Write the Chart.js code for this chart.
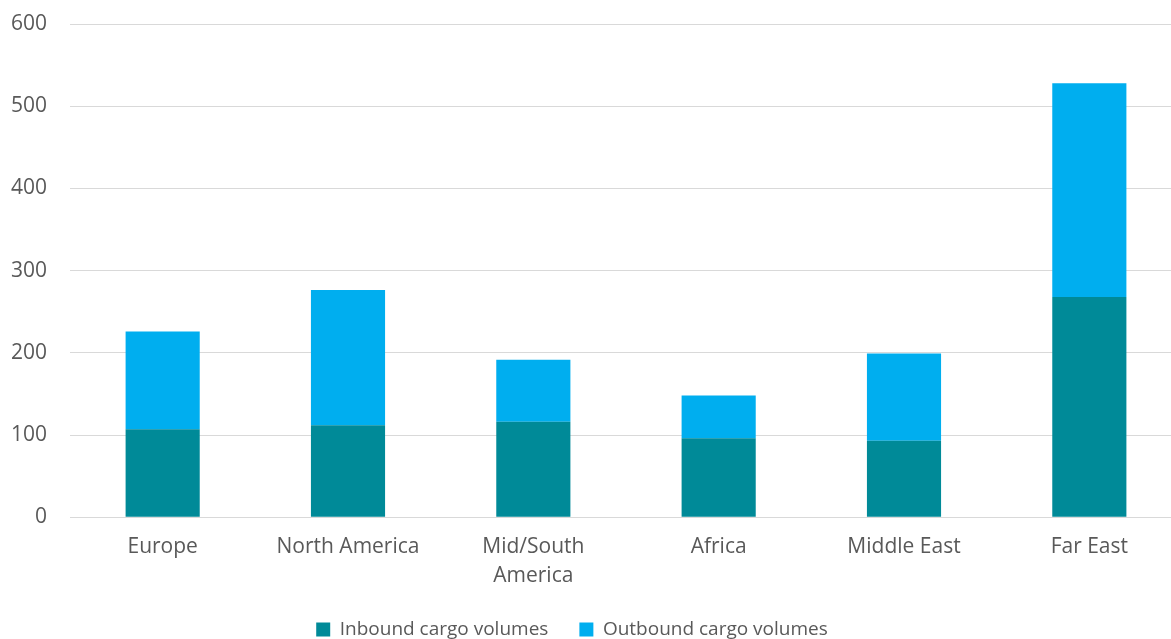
<!DOCTYPE html>
<html>
<head>
<meta charset="utf-8">
<script src="https://cdn.jsdelivr.net/npm/chart.js@4"></script>
<style>
  html, body { margin: 0; padding: 0; overflow: hidden; background: #fff; width: 1171px; height: 639px; }
  #wrap { position: absolute; left: -38px; top: 0; width: 1220px; height: 649px; }
</style>
</head>
<body>
<div id="wrap"><canvas id="c"></canvas></div>
<script>
const categories = ['Europe', 'North America', ['Mid/South', 'America'], 'Africa', 'Middle East', 'Far East'];
const inbound = [107, 112, 116, 96, 93, 268];
const outbound = [119, 164.5, 75.5, 52, 106, 260];
const seriesNames = ['Inbound cargo volumes', 'Outbound cargo volumes'];
const yTicks = [0, 100, 200, 300, 400, 500, 600];

const FONT = "'Open Sans', sans-serif";
const TXT = '#595959';

new Chart(document.getElementById('c'), {
  type: 'bar',
  data: {
    labels: categories,
    datasets: [
      { label: seriesNames[0], data: inbound, backgroundColor: '#008A98', borderWidth: 0, categoryPercentage: 1, barPercentage: 0.4 },
      { label: seriesNames[1], data: outbound, backgroundColor: '#00AEEF', borderWidth: 0, categoryPercentage: 1, barPercentage: 0.4 }
    ]
  },
  options: {
    responsive: true,
    maintainAspectRatio: false,
    animation: false,
    layout: { padding: { top: 24, left: 0, right: 0, bottom: 0 } },
    plugins: {
      tooltip: { enabled: false },
      legend: {
        position: 'bottom',
        labels: {
          font: { family: FONT, size: 19 },
          color: TXT,
          boxWidth: 14,
          boxHeight: 14,
          padding: 31
        }
      }
    },
    scales: {
      x: {
        stacked: true,
        grid: { display: false },
        border: { display: false },
        afterFit: (s) => { s.height -= 9; },
        ticks: {
          color: TXT,
          font: { family: FONT, size: 21, lineHeight: 1.4 },
          maxRotation: 0,
          autoSkip: false,
          padding: 7
        }
      },
      y: {
        stacked: true,
        min: 0,
        max: 600,
        afterBuildTicks: (s) => { s.ticks = yTicks.map(v => ({ value: v })); },
        afterFit: (s) => { s.width = 108; },
        grid: { color: '#D9D9D9', lineWidth: 1, drawTicks: true, tickLength: 23, tickColor: 'rgba(0,0,0,0)' },
        border: { display: false },
        ticks: {
          color: TXT,
          font: { family: FONT, size: 21 },
          padding: 0
        }
      }
    }
  }
});
</script>
</body>
</html>
